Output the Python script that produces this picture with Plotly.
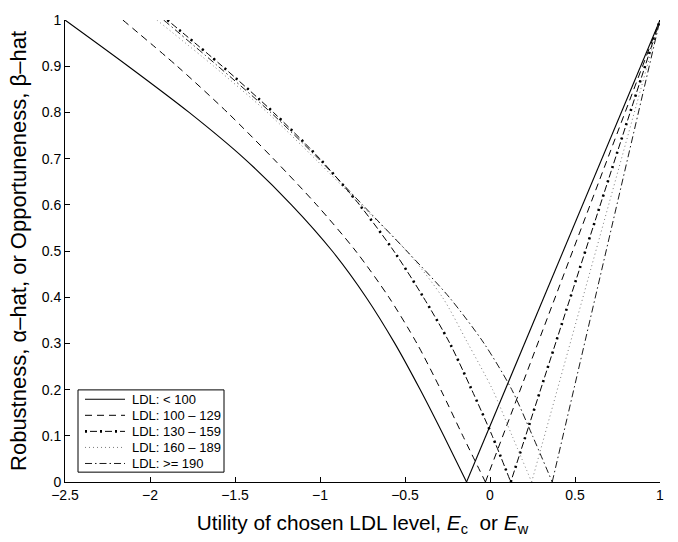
import plotly.graph_objects as go

# Robustness / opportuneness levels at which the left (robustness) branches are tabulated
alpha_levels = [1.0, 0.9, 0.8, 0.7, 0.6, 0.5, 0.4, 0.3, 0.2, 0.1, 0.0]

# Utility E_c giving each robustness level, one list per LDL band
e_ldl_lt100 = [-2.50, -2.128, -1.77, -1.445, -1.168, -0.928, -0.729, -0.56, -0.411, -0.272, -0.138]
e_ldl_100_129 = [-2.16, -1.84, -1.545, -1.275, -1.02, -0.79, -0.595, -0.43, -0.29, -0.16, -0.027]
e_ldl_130_159 = [-1.898, -1.575, -1.274, -1.002, -0.768, -0.566, -0.392, -0.236, -0.108, 0.013, 0.122]
e_ldl_160_189 = [-1.96, -1.625, -1.31, -1.03, -0.76, -0.49, -0.28, -0.13, 0.015, 0.13, 0.245]
e_ldl_ge190 = [-1.92, -1.60, -1.29, -1.01, -0.75, -0.49, -0.24, -0.035, 0.128, 0.25, 0.366]

# Opportuneness branch: rises linearly from the zero-robustness point to full windfall
opp_windfall_e = 1.0
opp_windfall_beta = 1.0

legend_names = ["LDL: < 100", "LDL: 100 \u2013 129", "LDL: 130 \u2013 159",
                "LDL: 160 \u2013 189", "LDL: >= 190"]
series = [e_ldl_lt100, e_ldl_100_129, e_ldl_130_159, e_ldl_160_189, e_ldl_ge190]

styles = [
    dict(color="black", width=1.1, dash="solid"),
    dict(color="black", width=1.0, dash="7px,5px"),
    dict(color="black", width=1.0, dash="2px,3px,7px,3px"),
    dict(color="#7a7a7a", width=1.0, dash="1px,3px"),
    dict(color="black", width=0.9, dash="7px,3px,1.5px,3px"),
]
# heavier dots riding on the 130-159 dash-dot pattern
dot_overlay = dict(color="black", width=2.6, dash="2px,13px")

FONT = "Liberation Sans, Arial, Helvetica, sans-serif"

fig = go.Figure()
for i, (name, e_vals, st) in enumerate(zip(legend_names, series, styles)):
    grp = f"g{i}"
    line_styles = [st] + ([dot_overlay] if i == 2 else [])
    for ls in line_styles:
        # robustness branch (curved)
        fig.add_trace(go.Scatter(
            x=e_vals, y=alpha_levels, mode="lines", name=name, legendgroup=grp,
            line=dict(color=ls["color"], width=ls["width"], dash=ls["dash"],
                      shape="spline", smoothing=0.8),
            showlegend=False,
        ))
        # opportuneness branch (straight)
        fig.add_trace(go.Scatter(
            x=[e_vals[-1], opp_windfall_e], y=[alpha_levels[-1], opp_windfall_beta],
            mode="lines", name=name, legendgroup=grp, showlegend=False,
            line=dict(color=ls["color"], width=ls["width"], dash=ls["dash"]),
        ))

# Legend box drawn in plot-area (paper) coordinates
PLOT_L, PLOT_R, PLOT_T, PLOT_B = 65, 660, 14, 483


def px_x(px):
    return (px - PLOT_L) / (PLOT_R - PLOT_L)


def px_y(py):
    return (PLOT_B - py) / (PLOT_B - PLOT_T)


shapes = [dict(type="rect", xref="paper", yref="paper",
               x0=px_x(78), x1=px_x(224), y0=px_y(473), y1=px_y(389.5),
               line=dict(color="black", width=1), fillcolor="white", layer="above")]
annotations = []
row_y = [399.0, 415.3, 431.6, 447.9, 464.2]
for i, (name, st) in enumerate(zip(legend_names, styles)):
    yy = px_y(row_y[i])
    line_styles = [st] + ([dot_overlay] if i == 2 else [])
    for ls in line_styles:
        shapes.append(dict(type="line", xref="paper", yref="paper",
                           x0=px_x(85), x1=px_x(125), y0=yy, y1=yy, layer="above",
                           line=dict(color=ls["color"], width=ls["width"], dash=ls["dash"])))
    annotations.append(dict(xref="paper", yref="paper", x=px_x(130), y=yy,
                            xanchor="left", yanchor="middle", showarrow=False,
                            text=name, font=dict(family=FONT, size=13, color="black")))

x_ticks = [-2.5, -2.0, -1.5, -1.0, -0.5, 0.0, 0.5, 1.0]
x_tick_text = ["\u22122.5", "\u22122", "\u22121.5", "\u22121", "\u22120.5", "0", "0.5", "1"]
y_ticks = [0.0, 0.1, 0.2, 0.3, 0.4, 0.5, 0.6, 0.7, 0.8, 0.9, 1.0]
y_tick_text = ["0", "0.1", "0.2", "0.3", "0.4", "0.5", "0.6", "0.7", "0.8", "0.9", "1"]

fig.update_layout(
    width=678, height=542,
    margin=dict(l=PLOT_L, r=678 - PLOT_R, t=PLOT_T, b=542 - PLOT_B),
    paper_bgcolor="white", plot_bgcolor="white",
    font=dict(family=FONT, color="black", size=14),
    showlegend=False,
    shapes=shapes,
    annotations=annotations,
    xaxis=dict(
        range=[-2.5, 1.0], tickmode="array", tickvals=x_ticks, ticktext=x_tick_text,
        ticks="inside", ticklen=5, tickwidth=1, tickcolor="black",
        showline=True, linecolor="black", linewidth=1, mirror=False,
        showgrid=False, zeroline=False, tickfont=dict(size=14),
        title=dict(text="Utility of chosen LDL level, <i>E</i><sub>c</sub>  or <i>E</i><sub>w</sub>",
                   font=dict(size=20.8), standoff=13),
    ),
    yaxis=dict(
        range=[0.0, 1.0], tickmode="array", tickvals=y_ticks, ticktext=y_tick_text,
        ticks="inside", ticklen=5, tickwidth=1, tickcolor="black",
        showline=True, linecolor="black", linewidth=1, mirror=False,
        showgrid=False, zeroline=False, tickfont=dict(size=14),
        title=dict(text="Robustness, \u03b1\u2013hat, or Opportuneness, \u03b2\u2013hat",
                   font=dict(size=22), standoff=9),
    ),
)

fig.write_html("out.html")
